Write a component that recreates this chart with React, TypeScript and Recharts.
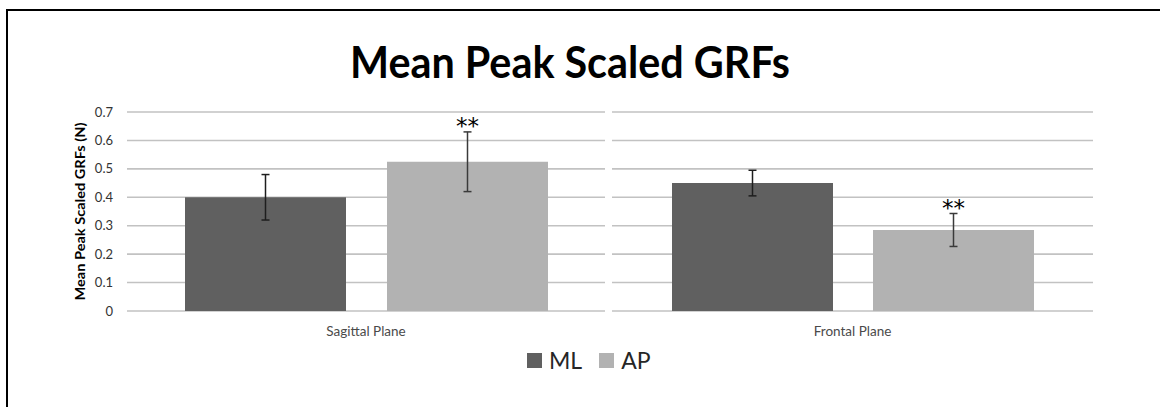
import React from 'react';
import { BarChart, Bar, XAxis, YAxis, CartesianGrid, ErrorBar, LabelList } from 'recharts';

const planes = ['Sagittal Plane', 'Frontal Plane'];
const mlValues = [0.4, 0.45];
const apValues = [0.525, 0.285];
const mlErrors = [0.08, 0.045];
const apErrors = [0.105, 0.058];
const sigMarks = ['**', '**'];
const yTicks = [0, 0.1, 0.2, 0.3, 0.4, 0.5, 0.6, 0.7];
const seriesNames = ['ML', 'AP'];
const seriesColors = ['#606060', '#b2b2b2'];

const FONT = 'Lato, "Open Sans", sans-serif';

function YLabel(props: any) {
  const vb = props.viewBox || { x: 0, y: 112, width: 127, height: 199 };
  const cx = vb.x + 80;
  const cy = vb.y + vb.height / 2;
  return (
    <text
      x={cx}
      y={cy}
      transform={`rotate(-90, ${cx}, ${cy})`}
      textAnchor="middle"
      dominantBaseline="central"
      fontFamily={FONT}
      fontWeight={700}
      fontSize={12.5}
      fill="#000"
      textLength={178}
      lengthAdjust="spacingAndGlyphs"
    >
      Mean Peak Scaled GRFs (N)
    </text>
  );
}

function Panel({ i, left, width, withAxis }: { i: number; left: number; width: number; withAxis: boolean }) {
  const row = [
    {
      plane: planes[i],
      ML: mlValues[i],
      AP: apValues[i],
      mlErr: mlErrors[i],
      apErr: apErrors[i],
    },
  ];

  const renderStars = (p: any) => {
    const x = Number(p.x);
    const y = Number(p.y);
    const w = Number(p.width);
    const h = Number(p.height);
    const top = y - (apErrors[i] * h) / apValues[i];
    return (
      <text
        x={x + w / 2}
        y={top + 2.5}
        textAnchor="middle"
        fontFamily="DejaVu Sans"
        fontSize={23}
        fill="#000"
      >
        {sigMarks[i]}
      </text>
    );
  };

  return (
    <div style={{ position: 'absolute', left, top: 0 }}>
      <BarChart
        width={width}
        height={350}
        data={row}
        margin={{ top: 112, right: 0, bottom: 0, left: 0 }}
        barCategoryGap={withAxis ? 58 : 60}
        barGap={withAxis ? 41 : 40}
      >
        <CartesianGrid vertical={false} stroke="#c2c2c2" strokeWidth={1.6} />
        <XAxis
          dataKey="plane"
          height={39}
          axisLine={false}
          tickLine={false}
          tickSize={0}
          tickMargin={15}
          tick={{ fill: '#4a4a4a', fontSize: 13.5, fontFamily: FONT }}
        />
        <YAxis
          hide={!withAxis}
          width={127}
          domain={[0, 0.7]}
          ticks={yTicks}
          interval={0}
          axisLine={false}
          tickLine={false}
          tickSize={0}
          tickMargin={14}
          tick={{ fill: '#333', fontSize: 13, fontFamily: FONT }}
          label={withAxis ? <YLabel /> : undefined}
        />
        <Bar dataKey="ML" fill={seriesColors[0]} isAnimationActive={false}>
          <ErrorBar dataKey="mlErr" width={4} stroke="#1e1e1e" strokeWidth={1.5} direction="y" isAnimationActive={false} />
        </Bar>
        <Bar dataKey="AP" fill={seriesColors[1]} isAnimationActive={false}>
          <ErrorBar dataKey="apErr" width={4} stroke="#3a3a3a" strokeWidth={1.5} direction="y" isAnimationActive={false} />
          <LabelList dataKey="AP" content={renderStars} />
        </Bar>
      </BarChart>
    </div>
  );
}

export default function App() {
  return (
    <div
      style={{
        position: 'fixed',
        left: 0,
        top: 0,
        width: 1160,
        height: 407,
        background: '#fff',
        overflow: 'hidden',
      }}
    >
      <div
        style={{
          position: 'absolute',
          left: 6,
          top: 9,
          width: 1200,
          height: 500,
          borderTop: '2px solid #000',
          borderLeft: '2px solid #000',
        }}
      />
      <svg width={1160} height={100} style={{ position: 'absolute', left: 0, top: 0 }}>
        <text
          x={570}
          y={78}
          textAnchor="middle"
          fontFamily={FONT}
          fontWeight={700}
          fontSize={43}
          fill="#000"
          textLength={440}
          lengthAdjust="spacingAndGlyphs"
        >
          Mean Peak Scaled GRFs
        </text>
      </svg>
      <Panel i={0} left={0} width={605} withAxis />
      <Panel i={1} left={612} width={481} withAxis={false} />
      <div
        style={{
          position: 'absolute',
          left: 527,
          top: 346,
          display: 'flex',
          alignItems: 'center',
          fontFamily: FONT,
          fontSize: 23,
          color: '#262626',
        }}
      >
        {seriesNames.map((name, k) => (
          <div key={name} style={{ display: 'flex', alignItems: 'center', marginRight: k === 0 ? 17 : 0 }}>
            <span style={{ width: 15, height: 15, background: seriesColors[k], marginRight: 7, display: 'inline-block' }} />
            <span style={{ lineHeight: '28px' }}>{name}</span>
          </div>
        ))}
      </div>
    </div>
  );
}
